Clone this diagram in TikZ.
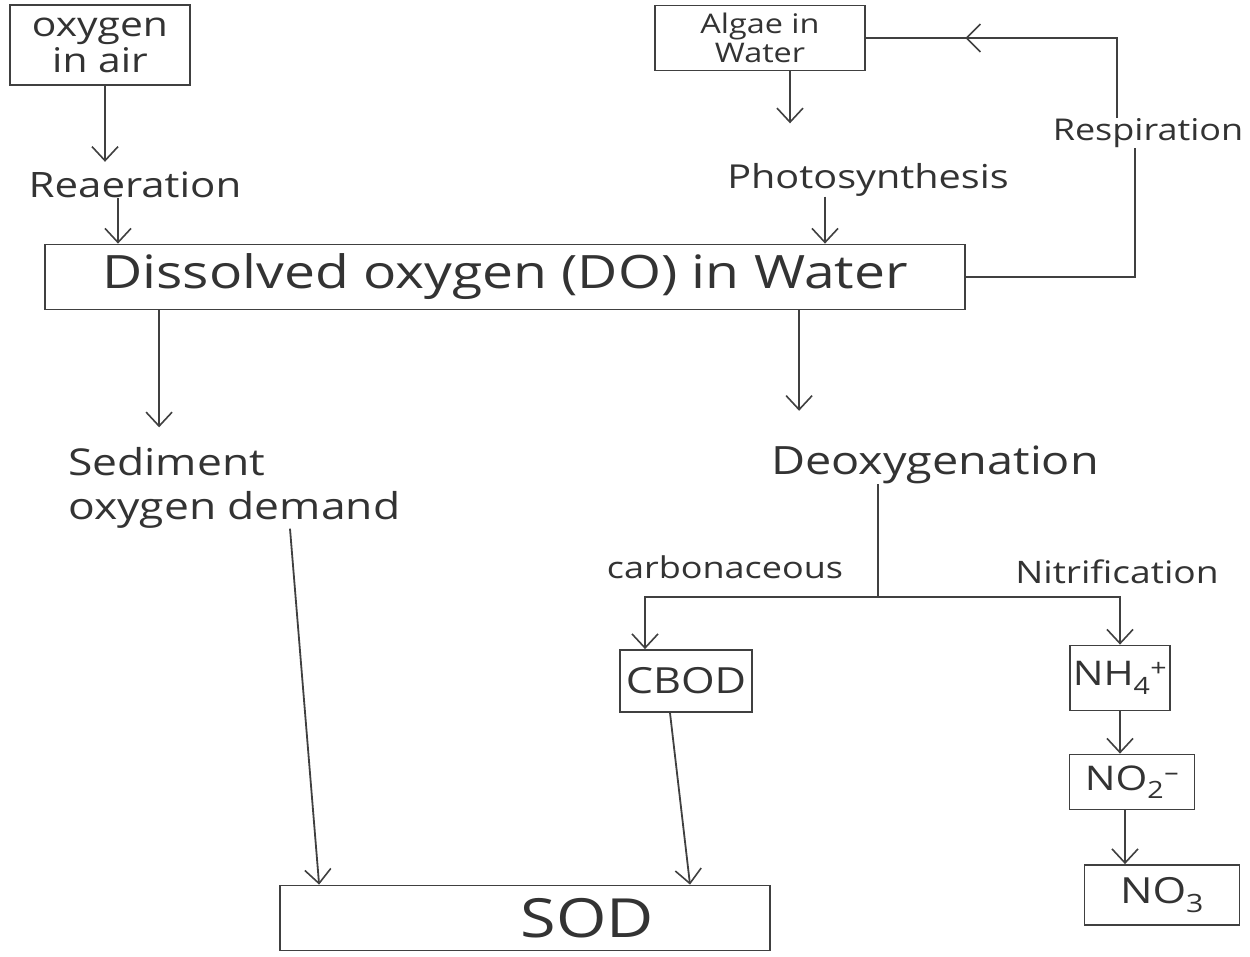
\documentclass[tikz,border=0pt]{standalone}
\usepackage{fontspec}
\setmainfont{Open Sans}[FakeStretch=1.2]
\usetikzlibrary{arrows.meta,calc,decorations.markings}
\begin{document}
\begin{tikzpicture}[x=1pt,y=-1pt,
  ink/.style={draw=black!75, line width=1.8pt},
  box/.style={ink, inner sep=0pt, align=center, text=black!80},
  lbl/.style={inner sep=0pt, align=left, text=black!80},
  arr/.style={ink, -{Straight Barb[length=14pt,width=26pt,line width=1.6pt]}},
  midarr/.style={ink, postaction={decorate}, decoration={markings,
     mark=at position #1 with {\arrow{Straight Barb[length=14pt,width=28pt,line width=1.6pt]}}}},
  fs/.style={font=\fontsize{#1}{#1}\selectfont}]
\useasboundingbox (0,0) rectangle (1250,956);
\fill[white] (0,0) rectangle (1250,956);

% boxes
\node[box, font=\fontsize{34}{36}\selectfont, minimum width=180pt, minimum height=80pt] (air) at (100,45) {oxygen\\in air};
\node[box, font=\fontsize{27}{29}\selectfont, minimum width=210pt, minimum height=65pt] (algae) at (760,38) {Algae in\\Water};
\node[box, fs=46, minimum width=920pt, minimum height=65pt] (do) at (505,277) {Dissolved oxygen (DO) in Water};
\node[box, fs=36, minimum width=132pt, minimum height=62pt] (cbod) at (686,681) {CBOD};
\node[box, fs=34, minimum width=100pt, minimum height=65pt] (nh4) at (1120,678) {NH\textsubscript{4}\textsuperscript{+}};
\node[box, fs=34, minimum width=125pt, minimum height=55pt] (no2) at (1132,782) {NO\textsubscript{2}\textsuperscript{\textendash}};
\node[box, fs=36, minimum width=155pt, minimum height=60pt] (no3) at (1162,895) {NO\textsubscript{3}};
\node[box, fs=54, minimum width=490pt, minimum height=65pt] (sod) at (525,918) {\hspace*{125pt}SOD};

% labels
\node[lbl, fs=35] (reaer) at (135,185) {Reaeration};
\node[lbl, fs=33] (photo) at (868,180) {Photosynthesis};
\node[lbl, fs=30] (resp) at (1148,133) {Respiration};
\node[lbl, font=\fontsize{37}{44}\selectfont, anchor=west] (sed) at (68,488) {Sediment\\oxygen demand};
\node[lbl, fs=39] (deox) at (935,465) {Deoxygenation};
\node[lbl, fs=30] (carb) at (725,567) {carbonaceous};
\node[lbl, fs=31] (nitr) at (1117,572) {Nitrification};

% connectors
\draw[arr, shorten >=10pt] ([xshift=5pt]air.south) -- ([xshift=5pt]air.south |- reaer.north);
\draw[arr] ([xshift=-17pt]reaer.south) -- ([xshift=-17pt]reaer.south |- do.north);
\draw[arr, shorten >=40pt] ([xshift=30pt]algae.south) -- ([xshift=30pt]algae.south |- photo.north);
\draw[arr] ([xshift=-43pt]photo.south) -- ([xshift=-43pt]photo.south |- do.north);
\draw[ink] (do.east) -| ([xshift=-13pt]resp.south);
\draw[midarr=0.7] ([xshift=-31pt]resp.north) |- (algae.east);

\coordinate (d1) at ($(do.south west)+(115,0)$);
\coordinate (d2) at ($(do.south west)+(755,0)$);
\draw[arr, shorten >=20pt] (d1) -- (d1 |- sed.north);
\draw[arr, shorten >=35pt] (d2) -- (d2 |- deox.north);

\coordinate (j) at (878,597);
\draw[ink] (j |- deox.south) -- (j);
\draw[arr] (j) -| ([xshift=-41pt]cbod.north);
\draw[arr] (j) -| (nh4.north);

\draw[arr] ([xshift=-16pt]cbod.south) -- ([xshift=165pt]sod.north);
\draw[arr] ($(sed.south west)+(222,0)$) -- ($(sod.north west)+(40,0)$);

\draw[arr] (nh4.south) -- (nh4.south |- no2.north);
\draw[arr] ([xshift=-7pt]no2.south) -- ([xshift=-7pt]no2.south |- no3.north);
\end{tikzpicture}
\end{document}
